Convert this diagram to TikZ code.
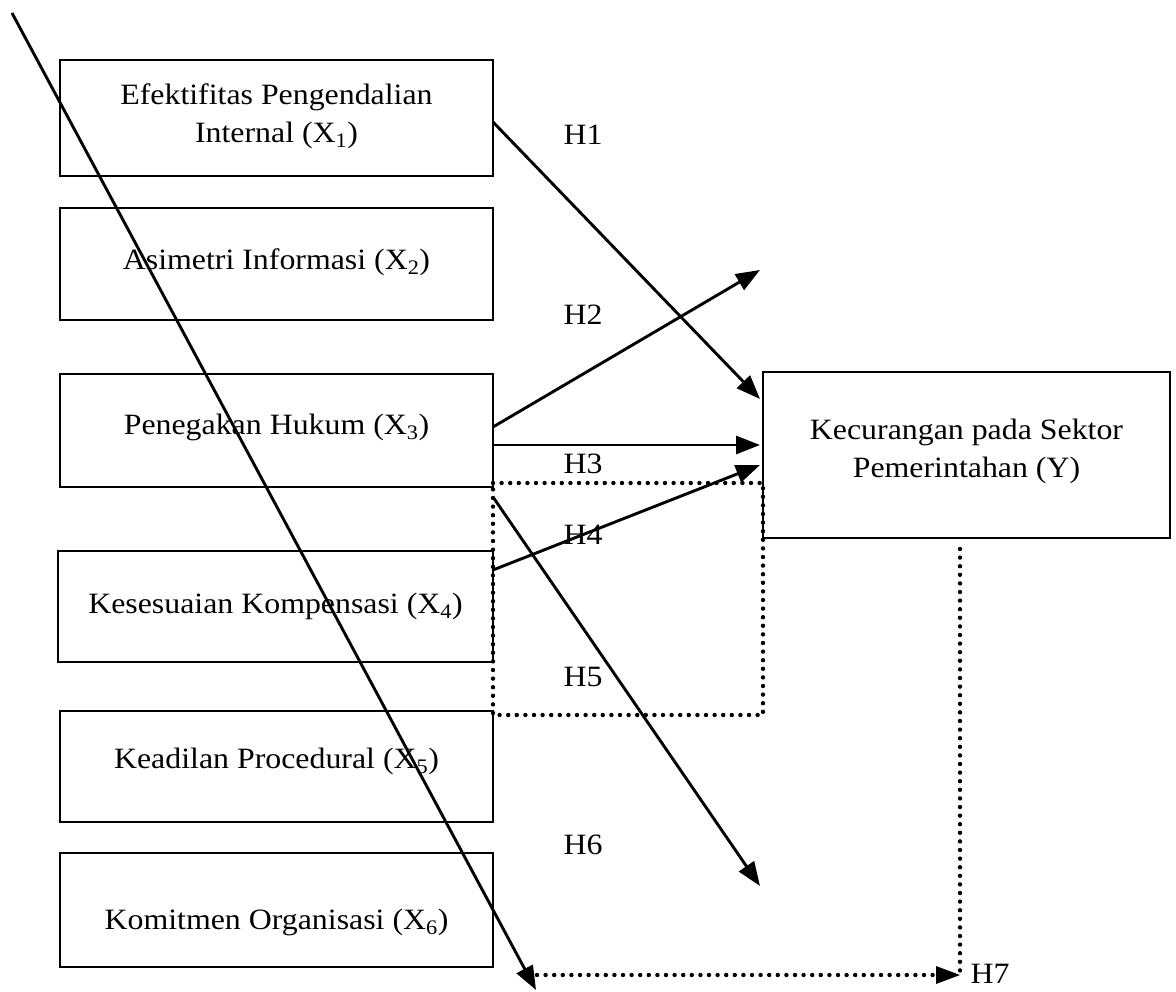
\documentclass[tikz,border=0pt]{standalone}
\usepackage{fontspec}
\setmainfont[FakeStretch=1.08]{Liberation Serif}
\usetikzlibrary{arrows.meta}
\tikzset{
  box/.style={draw, line width=2.8pt, rectangle, inner sep=0pt},
  txt/.style={inner sep=0pt, align=center, font=\fontsize{29.5}{38}\selectfont},
  lbl/.style={inner sep=0pt, font=\fontsize{29.5}{38}\selectfont},
  arr/.style={line width=2.9pt, -{Triangle[length=24pt,width=18pt]}},
  dots/.style={line width=4.4pt, line cap=round, dash pattern=on 0pt off 8.6pt},
  dotarr/.style={dots, -{Triangle[length=24pt,width=18pt,line width=0pt]}}
}
\begin{document}
\begin{tikzpicture}[x=1pt,y=-1pt]
\useasboundingbox (0,0) rectangle (1176,992);
% left boxes
\node[box, minimum width=433pt, minimum height=116pt] (b1) at (276.5,118) {};
\node[box, minimum width=433pt, minimum height=112pt] (b2) at (276.5,264) {};
\node[box, minimum width=433pt, minimum height=113pt] (b3) at (276.5,430.5) {};
\node[box, minimum width=435pt, minimum height=111pt] (b4) at (275.5,606.5) {};
\node[box, minimum width=433pt, minimum height=111pt] (b5) at (276.5,766.5) {};
\node[box, minimum width=433pt, minimum height=114pt] (b6) at (276.5,910) {};
\node[box, minimum width=407pt, minimum height=166pt] (y) at (966.5,455) {};
% texts
\node[txt] (t1) at (276.5,116) {Efektifitas Pengendalian\\Internal (X\textsubscript{1})};
\node[txt] (t2) at (276.5,262) {Asimetri Informasi (X\textsubscript{2})};
\node[txt] (t3) at (276.5,427.5) {Penegakan Hukum (X\textsubscript{3})};
\node[txt] (t4) at (275.5,606.5) {Kesesuaian Kompensasi (X\textsubscript{4})};
\node[txt] (t5) at (276.5,761.5) {Keadilan Procedural (X\textsubscript{5})};
\node[txt] (t6) at (276.5,922) {Komitmen Organisasi (X\textsubscript{6})};
\node[txt] (ty) at (966.5,451) {Kecurangan pada Sektor\\Pemerintahan (Y)};
% free ends
\coordinate (s1) at (493,122);
\coordinate (e1) at (760,399);
\coordinate (s2) at (493,427);
\coordinate (e2) at (760,270);
\coordinate (s3) at (493,445);
\coordinate (e3) at (760,445);
\coordinate (s4) at (493,570);
\coordinate (e4) at (760,465);
\coordinate (s5) at (493,497);
\coordinate (e5) at (760,886);
\coordinate (ls) at (12,13);
\coordinate (le) at (536,990);
\coordinate (d1) at (493,483);
\coordinate (d2) at (763,483);
\coordinate (d3) at (763,715);
\coordinate (d4) at (493,715);
\coordinate (v1) at (960,549);
\coordinate (v2) at (960,975);
\coordinate (h7s) at (537,975);
% arrows
\draw[arr] (s1) -- (e1);
\draw[arr] (s2) -- (e2);
\draw[arr] (s3) -- (e3);
\draw[arr] (s4) -- (e4);
\draw[arr] (s5) -- (e5);
\draw[arr] (ls) -- (le);
% dotted
\draw[dots] (d1) -- (d2) -- (d3) -- (d4) -- cycle;
\draw[dots] (v1) -- (v2);
\draw[dotarr] (h7s) -- (v2);
% labels
\node[lbl] (h1) at (583,135) {H1};
\node[lbl] (h2) at (583,315) {H2};
\node[lbl] (h3) at (583,464) {H3};
\node[lbl] (h4) at (583,535) {H4};
\node[lbl] (h5) at (583,677) {H5};
\node[lbl] (h6) at (583,845) {H6};
\node[lbl] (h7) at (990,974) {H7};
\end{tikzpicture}
\end{document}
